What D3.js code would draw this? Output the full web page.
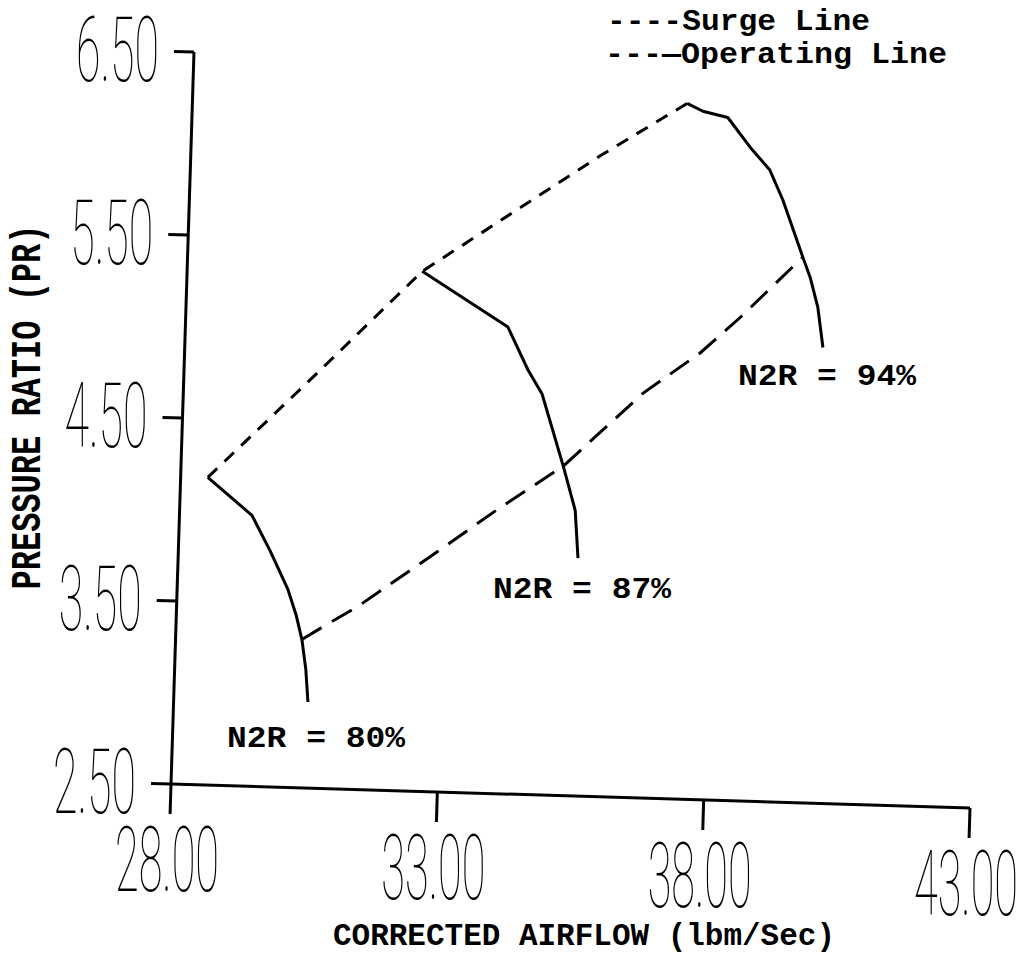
<!DOCTYPE html>
<html>
<head>
<meta charset="utf-8">
<script src="https://cdn.jsdelivr.net/npm/d3@7"></script>
<style>
  body { margin: 0; background: #fff; }
</style>
</head>
<body>
<svg id="chart" width="1028" height="967"></svg>
<script>
// axis ticks
const xTicks = [28, 33, 38, 43];
const xTickLabels = ["28.00", "33.00", "38.00", "43.00"];
const yTicks = [2.5, 3.5, 4.5, 5.5, 6.5];
const yTickLabels = ["2.50", "3.50", "4.50", "5.50", "6.50"];

// speed lines [airflow, pressure ratio]
const speed80 = [[28.51, 4.18], [29.36, 3.98], [29.72, 3.79], [30.08, 3.58], [30.25, 3.44], [30.37, 3.31], [30.46, 3.15], [30.52, 2.97]];
const speed87 = [[32.41, 5.34], [34.05, 5.05], [34.45, 4.82], [34.73, 4.69], [35.17, 4.30], [35.42, 4.06], [35.50, 3.80]];
const speed94 = [[37.28, 6.30], [37.58, 6.26], [38.05, 6.23], [38.49, 6.07], [38.87, 5.95], [39.13, 5.79], [39.54, 5.48], [39.69, 5.37], [39.85, 5.21], [39.97, 4.99]];

const surgeLine = [[28.51, 4.18], [30.51, 4.77], [32.41, 5.34], [35.68, 6.00], [37.28, 6.30]];
const operatingLine = [[30.37, 3.31], [30.74, 3.38], [31.40, 3.50], [32.85, 3.81], [33.95, 4.05], [35.17, 4.30], [36.62, 4.71], [37.67, 4.94], [38.40, 5.14], [39.54, 5.48]];

// speed labels and where they start (data units)
const speedNames = ["N2R = 80%", "N2R = 87%", "N2R = 94%"];
const speedLabelAt = [[29.03, 2.71], [33.93, 3.57], [38.40, 4.77]];

const svg = d3.select("#chart");

const xs = d3.scaleLinear().domain([28, 43]).range([0, 1]);
const ys = d3.scaleLinear().domain([2.5, 6.5]).range([0, 1]);

// the scanned plot is a little skewed, so map the unit square onto the tilted axes
const origin = [171, 784];
const xVec = [799, 24];
const yVec = [23, -732];
const pos = (x, y) => {
  const u = xs(x), v = ys(y);
  return [origin[0] + u * xVec[0] + v * yVec[0], origin[1] + u * xVec[1] + v * yVec[1]];
};

const line = d3.line()
  .x(d => pos(d[0], d[1])[0])
  .y(d => pos(d[0], d[1])[1]);

// axes
const axisG = svg.append("g")
  .attr("stroke", "#000")
  .attr("stroke-width", 3)
  .attr("fill", "none");

axisG.append("path").attr("d", line([[28, 2.5], [28, 6.5]]));
axisG.append("path").attr("d", line([[28, 2.5], [43, 2.5]]));

yTicks.forEach(t => {
  const p = pos(28, t);
  axisG.append("path").attr("d", `M${p[0]},${p[1]}L${p[0] - 20},${p[1] - 0.6}`);
});
xTicks.forEach(t => {
  const p = pos(t, 2.5);
  axisG.append("path").attr("d", `M${p[0]},${p[1]}L${p[0] - 0.9},${p[1] + 30}`);
});

// tick labels: tall, thin plotter style digits
const tickFont = "Roboto, 'DejaVu Sans', sans-serif";

yTicks.forEach((t, i) => {
  const p = pos(28, t);
  svg.append("text")
    .attr("x", p[0] - 35)
    .attr("y", p[1] + 29)
    .attr("text-anchor", "end")
    .attr("font-family", tickFont)
    .attr("font-weight", 100)
    .attr("font-size", 90)
    .attr("textLength", 83)
    .attr("lengthAdjust", "spacingAndGlyphs")
    .text(yTickLabels[i]);
});

xTicks.forEach((t, i) => {
  const p = pos(t, 2.5);
  svg.append("text")
    .attr("x", p[0] - 56)
    .attr("y", p[1] + 107)
    .attr("font-family", tickFont)
    .attr("font-weight", 100)
    .attr("font-size", 90)
    .attr("textLength", 104)
    .attr("lengthAdjust", "spacingAndGlyphs")
    .text(xTickLabels[i]);
});

// surge and operating lines
svg.append("path")
  .attr("d", line(surgeLine))
  .attr("fill", "none")
  .attr("stroke", "#000")
  .attr("stroke-width", 3)
  .attr("stroke-dasharray", "13 10");

svg.append("path")
  .attr("d", line(operatingLine))
  .attr("fill", "none")
  .attr("stroke", "#000")
  .attr("stroke-width", 3)
  .attr("stroke-dasharray", "23 12");

// speed lines
[speed80, speed87, speed94].forEach(s => {
  svg.append("path")
    .attr("d", line(s))
    .attr("fill", "none")
    .attr("stroke", "#000")
    .attr("stroke-width", 3)
    .attr("stroke-linejoin", "round");
});

const monoFont = "'Liberation Mono', 'Courier New', monospace";

speedNames.forEach((name, i) => {
  const p = pos(speedLabelAt[i][0], speedLabelAt[i][1]);
  svg.append("text")
    .attr("x", p[0])
    .attr("y", p[1])
    .attr("font-family", monoFont)
    .attr("font-weight", "bold")
    .attr("font-size", 30)
    .attr("textLength", 178)
    .attr("lengthAdjust", "spacingAndGlyphs")
    .text(name);
});

// legend
svg.append("text")
  .attr("x", 607).attr("y", 30)
  .attr("font-family", monoFont)
  .attr("font-weight", "bold")
  .attr("font-size", 30)
  .attr("textLength", 263)
  .attr("lengthAdjust", "spacingAndGlyphs")
  .text("----Surge Line");

svg.append("text")
  .attr("x", 605).attr("y", 63)
  .attr("font-family", monoFont)
  .attr("font-weight", "bold")
  .attr("font-size", 30)
  .attr("textLength", 342)
  .attr("lengthAdjust", "spacingAndGlyphs")
  .text("---\u2014Operating Line");

// axis titles
svg.append("text")
  .attr("x", 333).attr("y", 945)
  .attr("font-family", monoFont)
  .attr("font-weight", "bold")
  .attr("font-size", 31)
  .attr("textLength", 502)
  .attr("lengthAdjust", "spacingAndGlyphs")
  .text("CORRECTED AIRFLOW (lbm/Sec)");

svg.append("text")
  .attr("transform", "translate(40,407) rotate(-90)")
  .attr("text-anchor", "middle")
  .attr("font-family", monoFont)
  .attr("font-weight", "bold")
  .attr("font-size", 42)
  .attr("textLength", 365)
  .attr("lengthAdjust", "spacingAndGlyphs")
  .text("PRESSURE RATIO (PR)");
</script>
</body>
</html>
